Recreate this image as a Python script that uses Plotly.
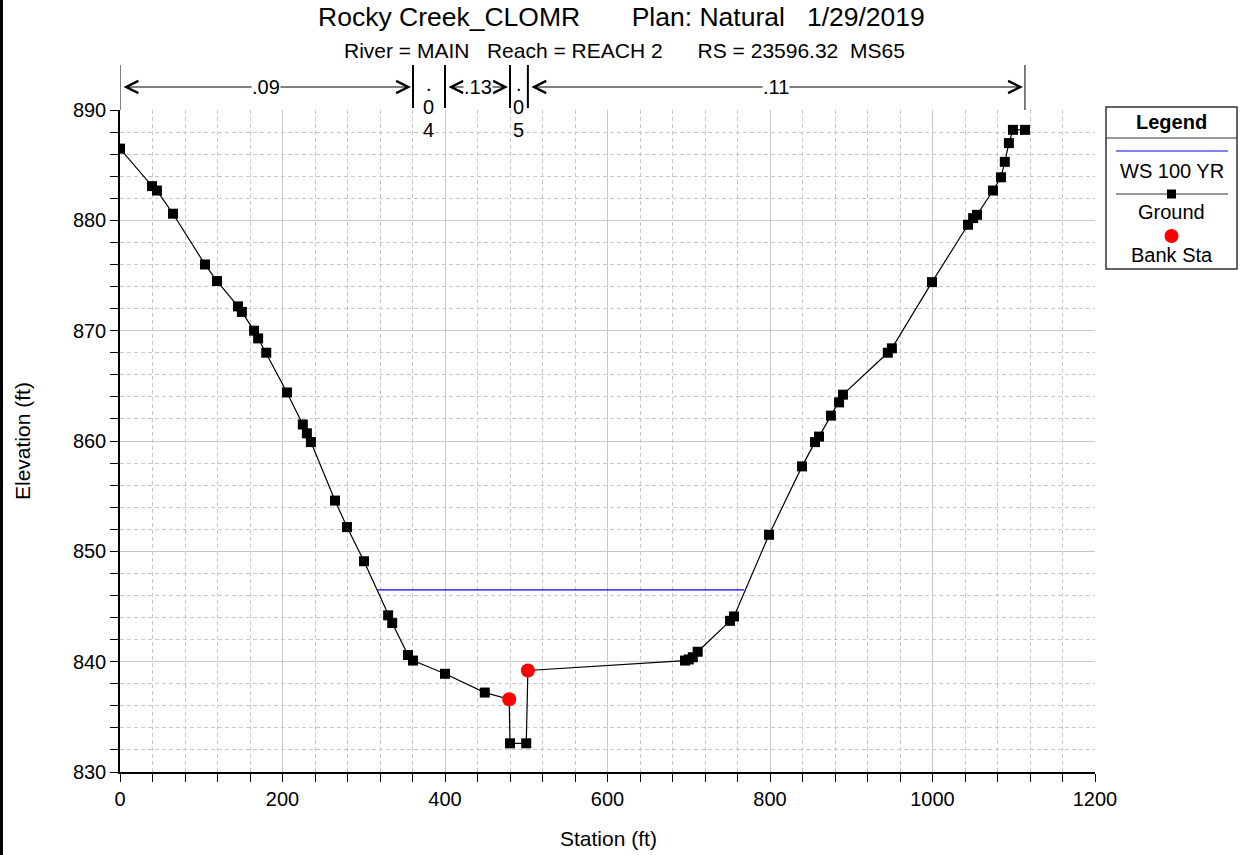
import plotly.graph_objects as go

# ---------------- data ----------------
ground_station = [0, 39.4, 45.5, 65.2, 104.6, 119.4, 145.2, 150, 165, 170, 180, 205.5,
                  225, 230, 235, 264.6, 279.4, 300.3, 330, 335, 354.5, 360.6, 400, 449,
                  479, 480, 500, 502, 695.4, 700, 705, 711, 750.8, 755.7, 798.8, 839.4,
                  855.4, 860.3, 875, 885, 889.8, 945, 950, 999.4, 1043.7, 1050, 1054.8,
                  1074.5, 1084.3, 1089, 1094, 1099, 1113.8]
ground_elev = [886.5, 883.1, 882.7, 880.6, 876.0, 874.5, 872.2, 871.7, 870.0, 869.3, 868.0, 864.4,
               861.5, 860.7, 859.9, 854.6, 852.2, 849.1, 844.2, 843.5, 840.6, 840.1, 838.9, 837.2,
               836.6, 832.6, 832.6, 839.2, 840.1, 840.2, 840.4, 840.9, 843.7, 844.1, 851.5, 857.7,
               859.9, 860.4, 862.3, 863.5, 864.2, 868.0, 868.4, 874.4, 879.6, 880.2, 880.5,
               882.7, 883.9, 885.3, 887.0, 888.2, 888.2]
bank_station = [479, 502]
bank_elev = [836.6, 839.2]
ws_station = [317, 768]
ws_elev = [846.5, 846.5]

n_bounds = [0, 360.6, 400, 480, 502, 1113.8]
n_values = [".09", ".04", ".13", ".05", ".11"]

x_ticks = [0, 200, 400, 600, 800, 1000, 1200]
y_ticks = [830, 840, 850, 860, 870, 880, 890]

FONT = "Liberation Sans, Arial, sans-serif"
FS = 20

# plot area pixels: left 120, right 1095, top 110, bottom 772
L, R, T, B = 120, 1095, 110, 772
W, H = 1247, 855
def px(x):
    return (x - L) / (R - L)
def py(y):
    return (B - y) / (B - T)

fig = go.Figure()
fig.add_trace(go.Scatter(x=ws_station, y=ws_elev, mode="lines",
                         line=dict(color="#0000ff", width=1.2), showlegend=False))
fig.add_trace(go.Scatter(x=ground_station, y=ground_elev, mode="lines+markers",
                         line=dict(color="black", width=1.2),
                         marker=dict(symbol="square", size=10, color="black"),
                         showlegend=False))
fig.add_trace(go.Scatter(x=bank_station, y=bank_elev, mode="markers",
                         marker=dict(symbol="circle", size=14, color="#ff0000"),
                         showlegend=False))

shapes = []
annotations = []

# left black border strip
shapes.append(dict(type="rect", xref="paper", yref="paper",
                   x0=px(0), x1=px(3), y0=py(H), y1=py(0),
                   fillcolor="black", line=dict(width=0), layer="above"))

# Manning's n boundaries
arrow_y = py(87)
for i, b in enumerate(n_bounds):
    end = (i == 0 or i == len(n_bounds) - 1)
    shapes.append(dict(type="line", xref="x", yref="paper", x0=b, x1=b,
                       y0=py(110) if end else py(108), y1=py(65),
                       line=dict(color="black", width=1 if end else 2)))

for i, v in enumerate(n_values):
    a, b = n_bounds[i], n_bounds[i + 1]
    mid = (a + b) / 2
    if b - a > 60:
        annotations.append(dict(x=b, y=arrow_y, xref="x", yref="paper",
                                ax=a, ay=0, axref="x", ayref="pixel",
                                text="", showarrow=True, arrowside="end+start",
                                arrowhead=5, arrowsize=2.4, arrowwidth=1,
                                arrowcolor="black", standoff=2, startstandoff=2))
        annotations.append(dict(x=mid, y=arrow_y, xref="x", yref="paper", text=v,
                                showarrow=False, bgcolor="white", borderpad=0,
                                font=dict(family=FONT, size=FS, color="black"),
                                xanchor="center", yanchor="middle"))
    else:
        for ch, yy in zip(v, [84, 107, 130]):
            annotations.append(dict(x=mid, y=py(yy), xref="x", yref="paper",
                                    text=ch, showarrow=False,
                                    font=dict(family=FONT, size=FS, color="black"),
                                    xanchor="center", yanchor="middle"))

# titles
nb = "\u00a0"
title = "Rocky Creek_CLOMR" + nb * 7 + "Plan: Natural" + nb * 3 + "1/29/2019"
subtitle = ("River = MAIN" + nb * 3 + "Reach = REACH 2" + nb * 6 +
            "RS = 23596.32" + nb * 2 + "MS65")
annotations.append(dict(x=px(621), y=py(17), xref="paper", yref="paper", text=title,
                        showarrow=False, font=dict(family=FONT, size=26.5, color="black"),
                        xanchor="center", yanchor="middle"))
annotations.append(dict(x=px(624), y=py(50), xref="paper", yref="paper", text=subtitle,
                        showarrow=False, font=dict(family=FONT, size=21, color="black"),
                        xanchor="center", yanchor="middle"))

# legend box
lx0, lx1, ly0, ly1 = 1106, 1237, 107, 269
lcx = (lx0 + lx1) / 2
shapes.append(dict(type="rect", xref="paper", yref="paper", x0=px(lx0), x1=px(lx1),
                   y0=py(ly1), y1=py(ly0), line=dict(color="#333333", width=1.5),
                   fillcolor="white", layer="above"))
shapes.append(dict(type="line", xref="paper", yref="paper", x0=px(lx0), x1=px(lx1),
                   y0=py(138), y1=py(138), line=dict(color="#333333", width=1.2)))
shapes.append(dict(type="line", xref="paper", yref="paper", x0=px(1116), x1=px(1228),
                   y0=py(151), y1=py(151), line=dict(color="#0000ff", width=1.2)))
shapes.append(dict(type="line", xref="paper", yref="paper", x0=px(1116), x1=px(1228),
                   y0=py(194), y1=py(194), line=dict(color="#333333", width=1.2)))
shapes.append(dict(type="rect", xref="paper", yref="paper", xsizemode="pixel",
                   ysizemode="pixel", xanchor=px(lcx), yanchor=py(194),
                   x0=-4.5, x1=4.5, y0=-4.5, y1=4.5, fillcolor="black",
                   line=dict(width=0), layer="above"))
shapes.append(dict(type="circle", xref="paper", yref="paper", xsizemode="pixel",
                   ysizemode="pixel", xanchor=px(lcx), yanchor=py(236),
                   x0=-7, x1=7, y0=-7, y1=7, fillcolor="#ff0000",
                   line=dict(width=0), layer="above"))
for txt, yy, bold in [("Legend", 122, True), ("WS 100 YR", 171, False),
                      ("Ground", 212, False), ("Bank Sta", 255, False)]:
    annotations.append(dict(x=px(lcx), y=py(yy), xref="paper", yref="paper",
                            text=f"<b>{txt}</b>" if bold else txt, showarrow=False,
                            font=dict(family=FONT, size=FS, color="black"),
                            xanchor="center", yanchor="middle"))

# axis titles
annotations.append(dict(x=px(22), y=py(441), xref="paper", yref="paper",
                        text="Elevation (ft)", textangle=-90, showarrow=False,
                        font=dict(family=FONT, size=21, color="black"),
                        xanchor="center", yanchor="middle"))
annotations.append(dict(x=px(608), y=py(838), xref="paper", yref="paper",
                        text="Station (ft)", showarrow=False,
                        font=dict(family=FONT, size=21, color="black"),
                        xanchor="center", yanchor="middle"))

DASH = "4px,3px"
fig.update_layout(
    width=W, height=H,
    margin=dict(l=L, r=W - R, t=T, b=H - B, autoexpand=False),
    paper_bgcolor="white", plot_bgcolor="white",
    showlegend=False,
    shapes=shapes, annotations=annotations,
    font=dict(family=FONT, size=FS, color="black"),
    xaxis=dict(range=[0, 1200], tickvals=x_ticks, ticktext=[str(v) for v in x_ticks],
               ticks="outside", ticklen=8, tickcolor="black", tickwidth=1,
               showline=True, linecolor="black", linewidth=2,
               showgrid=True, gridcolor="#c8c8c8", gridwidth=1, zeroline=False,
               tickfont=dict(family=FONT, size=FS, color="black"),
               minor=dict(dtick=40, tick0=0, ticks="outside", ticklen=8,
                          tickcolor="black", showgrid=True, gridcolor="#c8c8c8",
                          griddash=DASH, gridwidth=1)),
    yaxis=dict(range=[830, 890], tickvals=y_ticks, ticktext=[str(v) for v in y_ticks],
               ticks="outside", ticklen=8, tickcolor="black", tickwidth=1,
               showline=True, linecolor="black", linewidth=1.5,
               showgrid=True, gridcolor="#c8c8c8", gridwidth=1, zeroline=False,
               tickfont=dict(family=FONT, size=FS, color="black"),
               minor=dict(dtick=2, tick0=830, ticks="outside", ticklen=8,
                          tickcolor="black", showgrid=True, gridcolor="#c8c8c8",
                          griddash=DASH, gridwidth=1)),
)

fig.write_html("out.html", config={"displayModeBar": False},
               post_script="document.body.style.margin='0';document.body.style.overflow='hidden';")
